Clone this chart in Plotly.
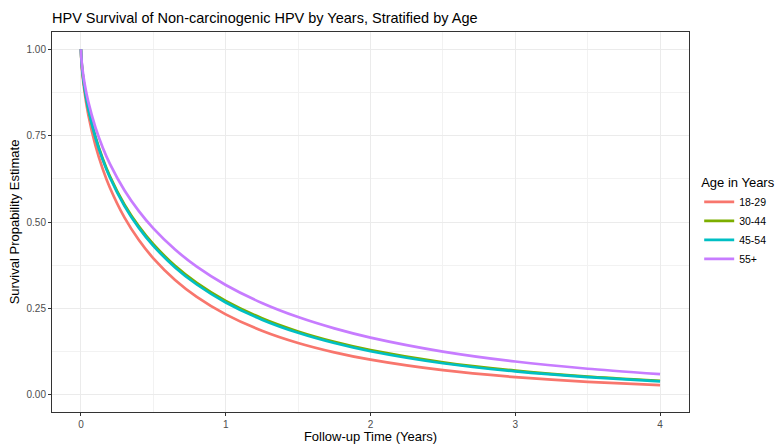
import plotly.graph_objects as go

# Follow-up time (years)
time_years = [0, 0.003, 0.01, 0.025, 0.05, 0.1, 0.15, 0.2, 0.3, 0.4, 0.5, 0.65, 0.8,
              1.0, 1.25, 1.5, 1.75, 2.0, 2.5, 3.0, 3.5, 4.0]

# Survival probability estimates by age group
surv_18_29 = [1.0, 0.9672, 0.9296, 0.8759, 0.8122, 0.7216, 0.6539, 0.5993, 0.5135, 0.4478,
              0.3949, 0.3323, 0.2834, 0.2327, 0.1854, 0.1499, 0.1228, 0.1015, 0.0710,
              0.0509, 0.0372, 0.0276]
surv_30_44 = [1.0, 0.9706, 0.9368, 0.8882, 0.8303, 0.7469, 0.6839, 0.6325, 0.5510, 0.4874,
              0.4357, 0.3733, 0.3238, 0.2715, 0.2215, 0.1833, 0.1532, 0.1293, 0.0939,
              0.0698, 0.0527, 0.0404]
surv_45_54 = [1.0, 0.9703, 0.9359, 0.8869, 0.8283, 0.7442, 0.6806, 0.6288, 0.5468, 0.4829,
              0.4310, 0.3686, 0.3191, 0.2670, 0.2173, 0.1793, 0.1496, 0.1259, 0.0911,
              0.0674, 0.0507, 0.0387]
surv_55_plus = [1.0, 0.9741, 0.9442, 0.9010, 0.8491, 0.7736, 0.7159, 0.6684, 0.5920, 0.5315,
                0.4815, 0.4203, 0.3708, 0.3177, 0.2656, 0.2248, 0.1921, 0.1654, 0.1249,
                0.0961, 0.0751, 0.0594]

group_names = ["18-29", "30-44", "45-54", "55+"]
group_values = [surv_18_29, surv_30_44, surv_45_54, surv_55_plus]
group_colors = ["#F8766D", "#7CAE00", "#00BFC4", "#C77CFF"]

x_ticks = [0, 1, 2, 3, 4]
y_ticks = [0.0, 0.25, 0.5, 0.75, 1.0]

fig = go.Figure()
for name, vals, col in zip(group_names, group_values, group_colors):
    fig.add_trace(go.Scatter(
        x=time_years, y=vals, mode="lines", name=name,
        line=dict(color=col, width=2.7, shape="spline", smoothing=0.6),
    ))

font_family = "Liberation Sans, Arial, sans-serif"

fig.update_layout(
    width=775, height=444,
    margin=dict(l=52, r=86, t=32, b=32, autoexpand=False),
    paper_bgcolor="white", plot_bgcolor="white",
    font=dict(family=font_family, color="#000000"),
    title=dict(text="HPV Survival of Non-carcinogenic HPV by Years, Stratified by Age",
               x=52 / 775, xanchor="left", xref="container",
               y=1 - 18 / 444, yanchor="middle", yref="container",
               font=dict(size=14.5, color="#000000")),
    showlegend=True,
    legend=dict(title=dict(text="Age in Years", font=dict(size=13, color="#000000")),
                font=dict(size=10.5, color="#000000"),
                x=1.016, xanchor="left", y=0.5, yanchor="middle",
                tracegroupgap=0, itemwidth=30, bgcolor="rgba(0,0,0,0)"),
)

fig.update_xaxes(
    range=[-0.2, 4.2], tickvals=x_ticks, ticktext=[str(v) for v in x_ticks],
    automargin=False,
    showgrid=True, gridcolor="#EBEBEB", gridwidth=1,
    minor=dict(dtick=0.5, tick0=0, showgrid=True, gridcolor="#F2F2F2", gridwidth=0.6),
    zeroline=False, showline=True, mirror=True, linecolor="#333333", linewidth=1,
    ticks="outside", ticklen=3, tickcolor="#333333",
    tickfont=dict(size=10, color="#4D4D4D"),
    title=dict(text="Follow-up Time (Years)", font=dict(size=13, color="#000000"), standoff=1),
)
fig.update_yaxes(
    range=[-0.05, 1.05], tickvals=y_ticks, ticktext=["%.2f" % v for v in y_ticks],
    automargin=False,
    showgrid=True, gridcolor="#EBEBEB", gridwidth=1,
    minor=dict(dtick=0.125, tick0=0, showgrid=True, gridcolor="#F2F2F2", gridwidth=0.6),
    zeroline=False, showline=True, mirror=True, linecolor="#333333", linewidth=1,
    ticks="outside", ticklen=3, tickcolor="#333333",
    tickfont=dict(size=10, color="#4D4D4D"),
    title=dict(text="Survival Propability Estimate", font=dict(size=13, color="#000000"), standoff=3),
)

fig.write_html("out.html", config={"displayModeBar": False},
               post_script="document.body.style.margin='0px';document.body.style.overflow='hidden';")
